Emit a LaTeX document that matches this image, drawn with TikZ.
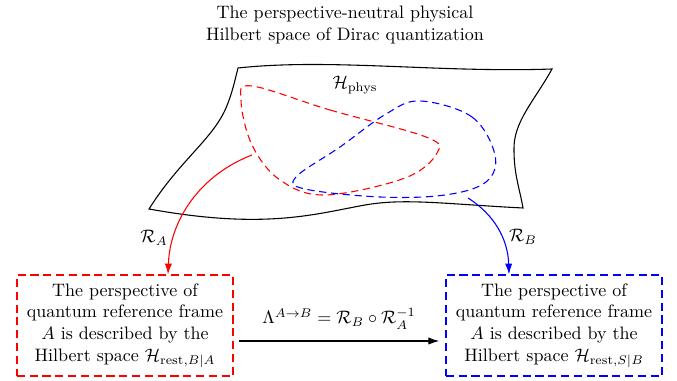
\documentclass[tikz,border=0pt]{standalone}
\usepackage{xcolor}
\usepackage{tikz}
\usetikzlibrary{positioning, arrows.meta, calc}
\definecolor{frameared}{HTML}{FF0000}
\definecolor{framebblue}{HTML}{0000FF}

\tikzset{
  framebox/.style={draw=#1, dash pattern=on 4.5pt off 2.6pt, line width=0.7pt,
        text=black, minimum width=120pt, minimum height=56pt, align=center,
        inner sep=2pt},
  blob/.style={dash pattern=on 4pt off 2.6pt, line width=0.6pt},
  mapto/.style={line width=0.6pt, -{Latex[length=6pt, width=4pt]}}
}

\begin{document}
\begin{tikzpicture}[x=0.555pt, y=-0.555pt]
  \useasboundingbox (0,0) rectangle (677,381);

  % title
  \node[align=center] (title) at (345,25) {The perspective-neutral physical\\
    Hilbert space of Dirac quantization};

  % the sheet
  \draw[line width=0.6pt] (238,68) .. controls (330,58) and (440,73) .. (552,69)
    .. controls (535,100) and (513,122) .. (514,150)
    .. controls (514,175) and (520,190) .. (523,208)
    .. controls (445,204) and (405,198) .. (365,205)
    .. controls (315,214) and (265,230) .. (149,209)
    .. controls (180,160) and (212,140) .. (226,108)
    .. controls (232,94) and (235,80) .. (238,68) -- cycle;
  \node (hphys) at (355,85) {$\mathcal{H}_{\mathrm{phys}}$};

  % the two perspectives
  \draw[blob, frameared] plot[smooth cycle, tension=0.6] coordinates {
    (252,86) (330,110) (426,137) (437,153) (405,178) (325,195) (280,180)
    (252,145) (241,100)};
  \draw[blob, framebblue] plot[smooth cycle, tension=0.6] coordinates {
    (420,101) (472,117) (495,155) (486,182) (445,195) (380,197) (305,189)
    (296,177) (340,147) (386,114)};

  % reduced descriptions
  \node[framebox=frameared] (boxA) at (125,325.5) {The perspective of\\
    quantum reference frame\\ $A$ is described by the\\
    Hilbert space $\mathcal{H}_{\mathrm{rest},B|A}$};
  \node[framebox=framebblue] (boxB) at (554,325.5) {The perspective of\\
    quantum reference frame\\ $A$ is described by the\\
    Hilbert space $\mathcal{H}_{\mathrm{rest},S|B}$};

  \coordinate (fromA) at (252,155);
  \coordinate (fromB) at (468,198);
  \coordinate (toA) at ($(boxA.north)+(43,0)$);
  \coordinate (toB) at ($(boxB.north)+(-45,0)$);

  \draw[mapto, frameared] (fromA) .. controls (200,175) and (170,220) .. (toA);
  \draw[mapto, framebblue] (fromB) .. controls (495,215) and (508,240) .. (toB);
  \node (ra) at (154,238) {$\mathcal{R}_A$};
  \node (rb) at (523,237) {$\mathcal{R}_B$};

  \draw[mapto] ($(boxA.east)+(5,15.5)$) -- node[above=3pt] (lambda)
    {$\Lambda^{A\to B}=\mathcal{R}_B\circ\mathcal{R}_A^{-1}$}
    ($(boxB.west)+(-6,15.5)$);
\end{tikzpicture}
\end{document}
